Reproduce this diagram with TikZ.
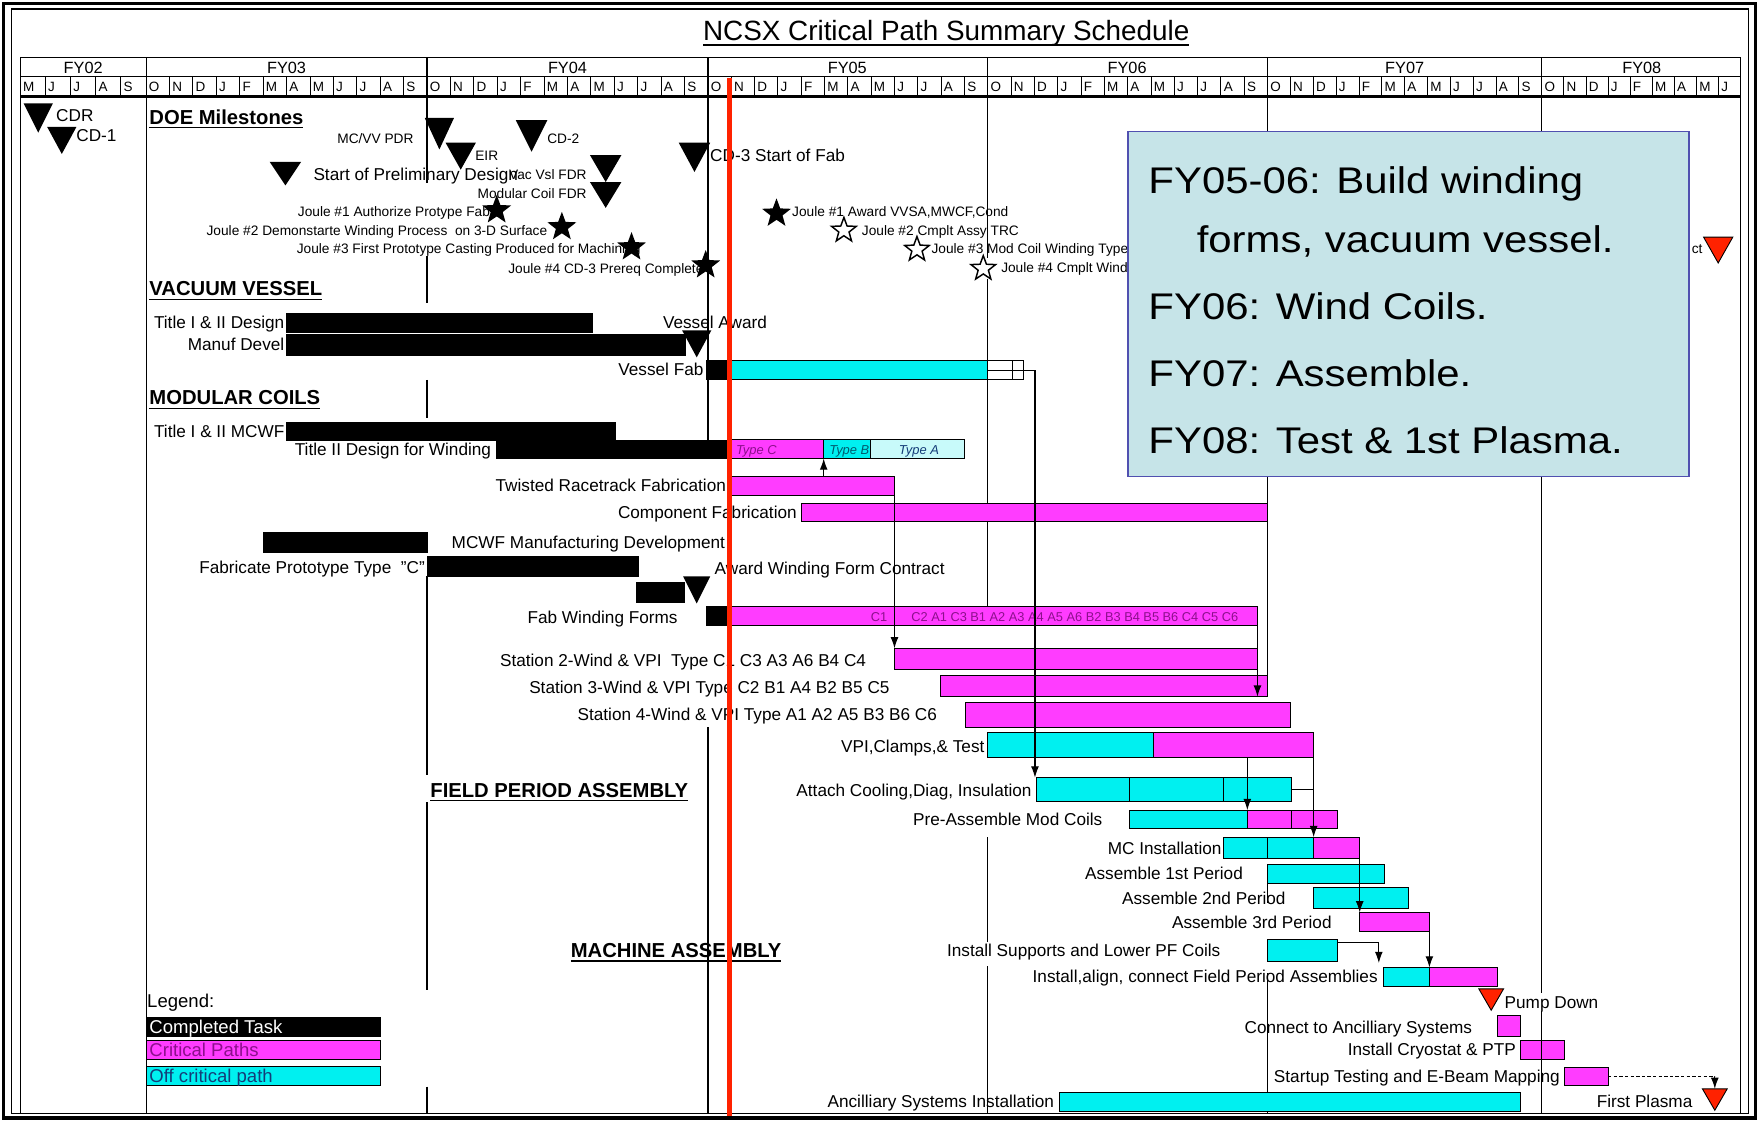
\documentclass[tikz,border=0pt]{standalone}
\usepackage{fontspec}
\setmainfont{Liberation Sans}
\newfontfamily\boxfont[FakeStretch=1.13]{Liberation Sans}
\usetikzlibrary{shapes.geometric,arrows.meta,calc}
\definecolor{mag}{RGB}{255,60,255}
\definecolor{cyn}{RGB}{0,240,240}
\definecolor{lcyn}{RGB}{200,250,250}
\definecolor{boxbg}{RGB}{198,228,232}
\definecolor{boxln}{RGB}{80,80,176}
\definecolor{redl}{RGB}{255,34,0}
\definecolor{magtxt}{RGB}{140,15,140}
\definecolor{cyntxt}{RGB}{20,60,120}
\definecolor{tealtxt}{RGB}{0,90,110}
\newcommand\gbar[6]{\node[gbarst,#6,anchor=north west,minimum width={#4pt-#2pt},minimum height={#5pt-#3pt}] (#1) at (#2,#3) {};}
\newcommand\mtri[6]{\coordinate (#1) at (#2,#3);
  \path[#6] ($(#1)+({-(#4)/2},0)$) -- ++(#4,0) -- ($(#1)+(0,#5)$) -- cycle;}
\begin{document}
\begin{tikzpicture}[x=1pt,y=-1pt,
  every node/.style={inner sep=0pt, outer sep=0pt},
  task/.style={font=\fontsize{15.3}{16}\selectfont, yshift=-5.5pt},
  msl/.style={font=\fontsize{12.2}{13}\selectfont, yshift=-4.4pt},
  lgd/.style={font=\fontsize{16.5}{17}\selectfont, yshift=-5.9pt},
  hd/.style={font=\bfseries\fontsize{18}{19}\selectfont, yshift=-6.4pt, anchor=base west},
  mon/.style={font=\fontsize{12}{13}\selectfont, anchor=base west},
  yr/.style={font=\fontsize{14.5}{15}\selectfont, anchor=base},
  aE/.style={anchor=base east}, aW/.style={anchor=base west},
  gbarst/.style={draw=black, line width=0.8pt, rectangle, inner sep=0pt, outer sep=0pt},
  blk/.style={fill=black}, mg/.style={fill=mag}, cy/.style={fill=cyn}, lc/.style={fill=lcyn}, wh/.style={fill=white},
  gridln/.style={line width=1pt},
  ul/.style={line width=1.4pt},
  conn/.style={line width=1pt, -{Latex[length=10pt,width=7pt]}},
  fstar/.style={star, star points=5, star point ratio=2.4, fill=black, minimum size=27pt},
  ostar/.style={star, star points=5, star point ratio=2.4, draw=black, fill=white, line width=1.3pt, minimum size=23pt},
  typ/.style={font=\itshape\fontsize{11.5}{12}\selectfont, anchor=base west, yshift=-4.1pt},
  bxt/.style={font=\boxfont\fontsize{33}{34}\selectfont, anchor=base west}
]
\useasboundingbox (0,0) rectangle (1568,998);
\fill[white] (0,0) rectangle (1568,998);
% frame
\draw[line width=3pt] (3,3) rectangle (1562,995);
\draw[line width=1pt] (10,8) rectangle (1556,991);
% title
\node[anchor=base, font=\fontsize{24.8}{26}\selectfont] (title) at (842,36) {NCSX Critical Path Summary Schedule};
\draw[line width=1.3pt] ([yshift=-4pt]title.base west) -- ([yshift=-4pt]title.base east);
% header
\draw[line width=1pt] (18,51) -- (1549,51);
\draw[line width=1pt] (18,68) -- (1549,68);
\draw[line width=2.4pt] (18,86) -- (1549,86);
\foreach \x/\t in {74/FY02, 255/FY03, 505/FY04, 754/FY05, 1003/FY06, 1250/FY07, 1461/FY08}
  \node[yr] (yr\t) at (\x,65) {\t};
\foreach \m [count=\i from 0] in {M,J,J,A,S} {
  \draw[line width=0.8pt] (18+\i*22.4,68) -- (18+\i*22.4,86);
  \node[mon] (moa-\i) at (18+\i*22.4+2.5,81.5) {\m};}
\foreach \a/\b in {130/380,380/630,630/879,879/1128,1128/1372} {
  \pgfmathsetmacro\w{(\b-\a)/12}
  \foreach \m [count=\i from 0] in {O,N,D,J,F,M,A,M,J,J,A,S} {
    \draw[line width=0.8pt] (\a+\i*\w,68) -- (\a+\i*\w,86);
    \node[mon] (mo\a-\i) at (\a+\i*\w+2.5,81.5) {\m};}}
\foreach \m [count=\i from 0] in {O,N,D,J,F,M,A,M,J} {
  \draw[line width=0.8pt] (1372+\i*19.67,68) -- (1372+\i*19.67,86);
  \node[mon] (mob-\i) at (1372+\i*19.67+2.5,81.5) {\m};}
% grid lines
\foreach \x/\s/\e in {18/51/991, 1549/51/991, 130/51/991, 380/51/163, 380/228/270, 380/338/372, 380/513/690, 380/714/881, 380/967/991,
   630/51/232, 630/242/321, 630/338/392, 630/647/991, 879/51/230, 879/248/321, 879/338/540, 879/745/838, 879/860/991,
   1128/51/601, 1128/783/804, 1128/866/991, 1372/51/884, 1372/900/991}
  \draw[gridln] (\x,\s) -- (\x,\e);

% ---------- milestones ----------
\node[hd] (doe) at (133,104) {DOE Milestones};
\draw[ul] ([yshift=-3pt]doe.base west) -- ([yshift=-3pt]doe.base east);
\node[task,aW] (tcdr) at (50,103) {CDR};
\node[task,aW] (tcd1) at (68,120) {CD-1};
\mtri{mcdr}{34}{92}{26}{26}{fill=black}
\mtri{mcd1}{55}{113}{26}{24}{fill=black}
\node[msl,aE] (tpdr) at (368,123) {MC/VV PDR};
\node[msl,aW] (teir) at (423,138) {EIR};
\node[msl,aW] (tcd2) at (487,123) {CD-2};
\node[task,aW] (tspd) at (279,155) {Start of Preliminary Design};
\node[msl,aE] (tvac) at (522,155) {Vac Vsl FDR};
\node[msl,aE] (tmcf) at (522,172) {Modular Coil FDR};
\node[task,aW] (tcd3) at (632,138) {CD-3 Start of Fab};
\mtri{mpdr}{391}{105}{26}{28}{fill=black}
\mtri{meir}{410}{127}{27}{24}{fill=black}
\mtri{mcd2}{473}{107}{28}{28}{fill=black}
\mtri{mspd}{254}{144}{28}{21}{fill=black}
\mtri{mvac}{539}{138}{28}{24}{fill=black}
\mtri{mmcf}{539}{162}{28}{23}{fill=black}
\mtri{mcd3}{618}{127}{28}{26}{fill=black}
\node[msl,aE] (tj1) at (436,188) {Joule \#1 Authorize Protype Fab};
\node[msl,aE] (tj2) at (487,205) {Joule \#2 Demonstarte Winding Process\ \ on 3-D Surface};
\node[msl,aE] (tj3) at (570,221) {Joule \#3 First Prototype Casting Produced for Machining};
\node[msl,aE] (tj4) at (626,239) {Joule \#4 CD-3 Prereq Complete};
\node[fstar] (sj1) at (442,187) {};
\node[fstar] (sj2) at (500,202) {};
\node[fstar] (sj3) at (562,220) {};
\node[fstar] (sj4) at (628,236) {};
\node[msl,aW] (tk1) at (705,188) {Joule \#1 Award VVSA,MWCF,Cond};
\node[msl,aW] (tk2) at (767,205) {Joule \#2 Cmplt Assy TRC};
\node[msl,aW] (tk3) at (829,221) {Joule \#3 Mod Coil Winding Type};
\node[msl,aW] (tk4) at (891,238) {Joule \#4 Cmplt Wind};
\node[fstar] (sk1) at (691,190) {};
\node[ostar] (sk2) at (751,205) {};
\node[ostar] (sk3) at (816,222) {};
\node[ostar] (sk4) at (875,239) {};
\node[msl,aE] (tct) at (1515,221) {ct};
\mtri{mred}{1529}{211}{26}{23}{fill=redl,draw=black,line width=0.8pt}

% ---------- vacuum vessel ----------
\node[hd] (vv) at (133,257) {VACUUM VESSEL};
\draw[ul] ([yshift=-3pt]vv.base west) -- ([yshift=-3pt]vv.base east);
\node[task,aE] (lt12d) at (253,287) {Title I \& II Design};
\node[task,aE] (lmd) at (253,306) {Manuf Devel};
\node[task,aW] (lva) at (590,287) {Vessel Award};
\node[task,aE] (lvf) at (626,329) {Vessel Fab};
\gbar{b_t12d}{255}{279}{527}{296}{blk}
\gbar{b_manuf}{255}{298}{610}{316}{blk}
\mtri{mva}{620}{294}{26}{24}{fill=black}
\gbar{b_vfab0}{629}{321}{647}{338}{blk}
\gbar{b_vfab1}{647}{321}{879}{338}{cy}
\gbar{b_vfab2}{879}{321}{911}{338}{wh}
\draw[line width=0.8pt] (879,330) -- (911,330) (901,321) -- (901,338);

% ---------- modular coils ----------
\node[hd] (mc) at (133,354) {MODULAR COILS};
\draw[ul] ([yshift=-3pt]mc.base west) -- ([yshift=-3pt]mc.base east);
\node[task,aE] (lmcwf) at (253,384) {Title I \& II MCWF};
\node[task,aE] (lt2d) at (437,400) {Title II Design for Winding};
\gbar{b_mcwf}{255}{376}{548}{392}{blk}
\gbar{b_t2d}{442}{392}{650}{408}{blk}
\gbar{b_tc}{650}{391}{733}{408}{mg}
\gbar{b_tb}{733}{391}{775}{408}{cy}
\gbar{b_ta}{775}{391}{858}{408}{lc}
\draw[line width=0.8pt] (650,391) rectangle (858,408);
\node[typ,text=magtxt] (ttc) at (655,400) {Type C};
\node[typ,text=tealtxt] (ttb) at (738,400) {Type B};
\node[typ,text=cyntxt] (tta) at (800,400) {Type A};
\node[task,aE] (ltrf) at (646,432) {Twisted Racetrack Fabrication};
\gbar{b_trf}{650}{424}{796}{441}{mg}
\node[task,aE] (lcomp) at (709,456) {Component Fabrication};
\gbar{b_comp}{713}{448}{1128}{464}{mg}
\node[task,aW] (lmmd) at (402,483) {MCWF Manufacturing Development};
\gbar{b_mmd}{234}{474}{380}{492}{blk}
\node[task,aE] (lfab) at (378,505) {Fabricate Prototype Type\ \ "C"};
\gbar{b_fab}{380}{495}{568}{513}{blk}
\node[task,aW] (lawd) at (636,506) {Award Winding Form Contract};
\gbar{b_awd}{566}{518}{609}{536}{blk}
\mtri{mawd}{620}{513}{24}{24}{fill=black}
\node[task,aE] (lfwf) at (603,549) {Fab Winding Forms};
\gbar{b_fwf0}{629}{540}{648}{557}{blk}
\gbar{b_fwf}{648}{540}{1119}{557}{mg}
\node[font=\fontsize{11.4}{12}\selectfont, aW, yshift=-4.1pt, text=magtxt] (tc1) at (775,549) {C1};
\node[font=\fontsize{11.4}{12}\selectfont, aW, yshift=-4.1pt, text=magtxt] (tcs) at (811,549) {C2 A1 C3 B1 A2 A3 A4 A5 A6 B2 B3 B4 B5 B6 C4 C5 C6};
\node[task,aW] (lst2) at (445,588) {Station 2-Wind \& VPI\ \ Type C1 C3 A3 A6 B4 C4};
\node[task,aW] (lst3) at (471,612) {Station 3-Wind \& VPI Type C2 B1 A4 B2 B5 C5};
\node[task,aW] (lst4) at (514,636) {Station 4-Wind \& VPI Type A1 A2 A5 B3 B6 C6};
\gbar{b_st2}{796}{577}{1119}{596}{mg}
\gbar{b_st3}{837}{601}{1128}{620}{mg}
\gbar{b_st4}{859}{625}{1148}{647}{mg}
\node[task,aE] (lvpi) at (876,664) {VPI,Clamps,\& Test};
\gbar{b_vpi1}{879}{652}{1026}{674}{cy}
\gbar{b_vpi2}{1026}{652}{1169}{674}{mg}

% ---------- field period assembly ----------
\node[hd] (fpa) at (383,703) {FIELD PERIOD ASSEMBLY};
\draw[ul] ([yshift=-3pt]fpa.base west) -- ([yshift=-3pt]fpa.base east);
\node[task,aE] (latt) at (918,703) {Attach Cooling,Diag, Insulation};
\gbar{b_att}{922}{692}{1149}{713}{cy}
\draw[line width=0.8pt] (1005,692) -- (1005,713) (1089,692) -- (1089,713);
\node[task,aE] (lpre) at (981,729) {Pre-Assemble Mod Coils};
\gbar{b_pre1}{1005}{721}{1110}{737}{cy}
\gbar{b_pre2}{1110}{721}{1190}{737}{mg}
\draw[line width=0.8pt] (1149,721) -- (1149,737);
\node[task,aE] (lmci) at (1087,755) {MC Installation};
\gbar{b_mci1}{1089}{745}{1169}{764}{cy}
\gbar{b_mci2}{1169}{745}{1210}{764}{mg}
\draw[line width=0.8pt] (1128,745) -- (1128,764);
\node[task,aE] (las1) at (1106,777) {Assemble 1st Period};
\gbar{b_as1}{1128}{769}{1232}{786}{cy}
\node[task,aE] (las2) at (1144,799) {Assemble 2nd Period};
\gbar{b_as2}{1169}{790}{1253}{808}{cy}
\node[task,aE] (las3) at (1185,821) {Assemble 3rd Period};
\gbar{b_as3}{1210}{812}{1272}{829}{mg}

% ---------- machine assembly ----------
\node[hd] (ma) at (508,846) {MACHINE ASSEMBLY};
\draw[ul] ([yshift=-3pt]ma.base west) -- ([yshift=-3pt]ma.base east);
\node[task,aE] (lisp) at (1086,846) {Install Supports and Lower PF Coils};
\gbar{b_isp}{1128}{836}{1190}{856}{cy}
\node[task,aE] (lial) at (1226,869) {Install,align, connect Field Period Assemblies};
\gbar{b_ial1}{1231}{861}{1272}{878}{cy}
\gbar{b_ial2}{1272}{861}{1333}{878}{mg}
\mtri{mpump}{1327}{880}{22}{19}{fill=redl,draw=black,line width=0.8pt}
\node[task,aW] (lpump) at (1339,892) {Pump Down};
\node[task,aE] (lcas) at (1310,914) {Connect to Ancilliary Systems};
\gbar{b_cas}{1333}{904}{1353}{922}{mg}
\node[task,aE] (licr) at (1349,934) {Install Cryostat \& PTP};
\gbar{b_icr}{1353}{926}{1392}{943}{mg}
\draw[line width=0.8pt] (1372,926) -- (1372,943);
\node[task,aE] (lstt) at (1388,958) {Startup Testing and E-Beam Mapping};
\gbar{b_stt}{1392}{950}{1431}{966}{mg}
\node[task,aE] (lfp) at (1506,980) {First Plasma};
\mtri{fp}{1526}{969}{22}{19}{fill=redl,draw=black,line width=0.8pt}
\node[task,aE] (lanc) at (938,980) {Ancilliary Systems Installation};
\gbar{b_anc}{943}{972}{1353}{989}{cy}

% ---------- legend ----------
\node[lgd,aW] (lgt) at (131,891) {Legend:};
\gbar{lg1}{130}{905}{339}{922}{blk}
\gbar{lg2}{130}{926}{339}{943}{mg}
\gbar{lg3}{130}{949}{339}{966}{cy}
\node[lgd,aW,text=white] (lgt1) at (133,913.5) {Completed Task};
\node[lgd,aW,text=magtxt] (lgt2) at (133,934.5) {Critical Paths};
\node[lgd,aW,text=cyntxt] (lgt3) at (133,957.5) {Off critical path};

% ---------- connectors ----------
\draw[conn] (b_vfab2.east) -| ([xshift=-1pt]b_att.north west);
\draw[conn] (b_trf.south east) -- (b_st2.north west);
\draw[conn] (b_tb.south west |- b_trf.north) -- (b_tb.south west);
\draw[conn] (b_fwf.south east) -- (b_fwf.south east |- b_st3.south);
\draw[conn] (b_pre1.north east |- b_vpi2.south) -- (b_pre1.north east);
\draw[conn] (b_vpi2.south east) -- (b_mci1.north east);
\draw[line width=1pt] (b_att.east) -- (b_att.east -| b_vpi2.south east);
\draw[conn] (b_mci2.south east) -- (b_as3.north west);
\draw[conn] (b_as3.south east) -- (b_ial2.north west);
\draw[conn] ([yshift=-3pt]b_isp.north east) -| ([xshift=-4pt,yshift=4pt]b_ial1.north west);
\draw[conn, dash pattern=on 3pt off 2pt] (b_stt.east) -| (fp);

% ---------- status line ----------
\draw[redl, line width=4pt] (649,69) -- (649,993);

% ---------- note box ----------
\node[draw=boxln, fill=boxbg, line width=1.5pt, anchor=north west, minimum width=499pt, minimum height=307pt] (note) at (1004,117) {};
\node[bxt] (nb1) at (1022,172) {FY05-06: Build winding};
\node[bxt] (nb2) at (1065,225) {forms, vacuum vessel.};
\node[bxt] (nb3) at (1022,284) {FY06: Wind Coils.};
\node[bxt] (nb4) at (1022,344) {FY07: Assemble.};
\node[bxt] (nb5) at (1022,404) {FY08: Test \& 1st Plasma.};
\end{tikzpicture}
\end{document}
